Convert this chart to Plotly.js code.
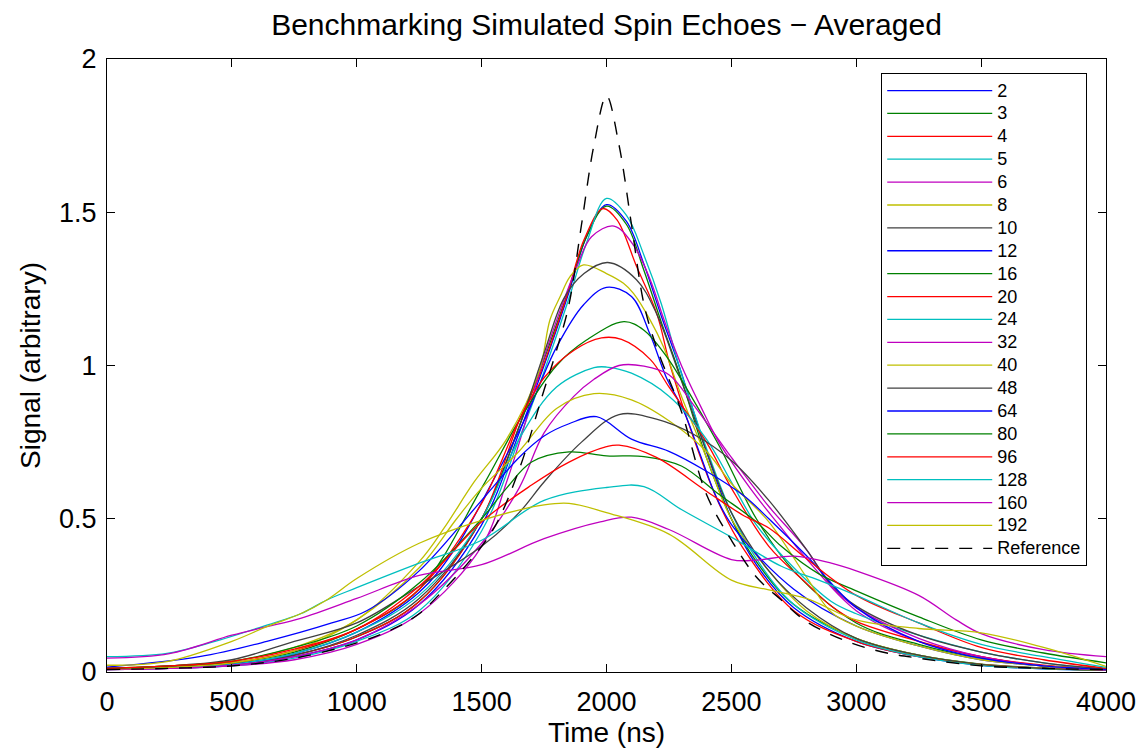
<!DOCTYPE html>
<html>
<head>
<meta charset="utf-8">
<script src="https://cdn.plot.ly/plotly-3.0.1.min.js"></script>
<style>html,body{margin:0;padding:0;background:#fff;}#chart{width:1146px;height:753px;}</style>
</head>
<body>
<div id="chart"></div>
<script>
// ---- data ----
var seriesNames = ["2","3","4","5","6","8","10","12","16","20","24","32","40","48","64","80","96","128","160","192"];
var seriesColors = ["#0000ff","#008000","#ff0000","#00bfbf","#bf00bf","#bfbf00","#404040",
                    "#0000ff","#008000","#ff0000","#00bfbf","#bf00bf","#bfbf00","#404040",
                    "#0000ff","#008000","#ff0000","#00bfbf","#bf00bf","#bfbf00"];

var t2 = [0,250,500,750,1000,1250,1500,1650,1750,1850,1920,2000,2080,2150,2220,2290,2400,2500,2600,2750,3000,3250,3500,3750,4000];
var s2 = [0.01,0.013,0.022,0.05,0.105,0.22,0.48,0.78,1.0,1.24,1.42,1.525,1.47,1.33,1.16,1.0,0.72,0.5,0.35,0.21,0.1,0.05,0.022,0.01,0.005];
var t3 = t2;
var s3 = [0.012,0.016,0.026,0.055,0.115,0.23,0.5,0.8,1.02,1.25,1.42,1.52,1.46,1.31,1.14,0.98,0.7,0.5,0.36,0.22,0.11,0.055,0.026,0.013,0.006];
var t4 = [0,250,500,750,1000,1250,1500,1650,1735,1840,1910,1985,2042,2121,2201,2255,2350,2450,2550,2750,3000,3250,3500,3750,4000];
var s4 = [0.01,0.015,0.025,0.055,0.115,0.23,0.5,0.82,0.975,1.224,1.41,1.512,1.475,1.322,1.17,1.0,0.76,0.55,0.4,0.2,0.1,0.05,0.025,0.012,0.006];
var t5 = t2;
var s5 = [0.008,0.012,0.02,0.045,0.1,0.2,0.46,0.76,0.98,1.22,1.4,1.545,1.49,1.36,1.2,1.0,0.73,0.52,0.37,0.22,0.105,0.05,0.022,0.01,0.005];
var t6 = [0,250,500,750,1000,1250,1500,1600,1670,1740,1810,1880,1940,2030,2110,2175,2230,2300,2375,2450,2575,2700,2800,3000,3250,3500,3750,4000];
var s6 = [0.008,0.012,0.02,0.04,0.09,0.19,0.41,0.62,0.8,1.0,1.17,1.32,1.42,1.455,1.39,1.28,1.15,1.0,0.87,0.75,0.6,0.47,0.37,0.2,0.1,0.05,0.02,0.008];
var t8 = [0,250,500,750,1000,1250,1350,1470,1600,1730,1774,1814,1854,1908,2000,2068,2108,2175,2228,2300,2400,2500,2650,2800,3000,3250,3500,3750,4000];
var s8 = [0.012,0.02,0.035,0.08,0.17,0.36,0.47,0.62,0.76,0.98,1.15,1.224,1.29,1.328,1.3,1.268,1.235,1.148,1.061,0.9,0.7,0.5,0.33,0.2,0.11,0.055,0.025,0.012,0.005];
var t10 = [0,250,500,750,1000,1250,1500,1650,1750,1830,1910,2005,2120,2200,2300,2400,2500,2650,2800,3000,3250,3500,3750,4000];
var s10 = [0.01,0.015,0.025,0.055,0.12,0.24,0.5,0.8,1.04,1.22,1.3,1.336,1.28,1.17,0.95,0.72,0.52,0.33,0.21,0.11,0.055,0.025,0.012,0.006];
var t12 = [0,250,500,750,1000,1250,1400,1530,1670,1800,1910,2000,2100,2175,2240,2310,2375,2440,2510,2750,3000,3250,3500,3750,4000];
var s12 = [0.01,0.015,0.025,0.06,0.13,0.26,0.41,0.6,0.82,1.06,1.2,1.255,1.225,1.1,0.96,0.85,0.71,0.57,0.47,0.27,0.15,0.085,0.04,0.02,0.008];
var t16 = [0,250,500,750,1000,1250,1500,1650,1800,1920,2070,2150,2240,2310,2450,2600,2750,3000,3250,3500,3750,4000];
var s16 = [0.01,0.015,0.03,0.065,0.14,0.27,0.6,0.82,1.0,1.083,1.143,1.115,1.03,0.94,0.74,0.5,0.33,0.16,0.09,0.045,0.02,0.01];
var t20 = [0,250,500,750,1000,1250,1500,1650,1750,1870,1980,2060,2175,2250,2400,2500,2650,2800,2900,3000,3250,3500,3750,4000];
var s20 = [0.012,0.018,0.03,0.07,0.14,0.27,0.55,0.82,0.96,1.05,1.09,1.085,1.02,0.93,0.75,0.6,0.41,0.29,0.215,0.165,0.1,0.05,0.022,0.01];
var t24 = [0,250,500,750,1000,1250,1500,1650,1800,1950,2000,2100,2250,2400,2500,2600,2750,2900,3000,3250,3500,3750,4000];
var s24 = [0.01,0.015,0.025,0.06,0.13,0.25,0.5,0.76,0.93,0.993,0.995,0.975,0.9,0.76,0.62,0.48,0.34,0.23,0.19,0.12,0.065,0.03,0.01];
var t32 = [0,250,500,750,1000,1250,1500,1650,1750,1870,1950,2050,2150,2250,2350,2500,2650,2800,2900,3000,3250,3500,3750,4000];
var s32 = [0.008,0.012,0.022,0.05,0.105,0.22,0.42,0.6,0.78,0.9,0.955,1.0,0.998,0.97,0.87,0.7,0.54,0.4,0.28,0.21,0.11,0.05,0.02,0.006];
var t40 = [0,250,500,750,1000,1250,1400,1500,1650,1800,1950,2100,2250,2400,2500,2650,2800,2900,3000,3250,3500,3750,4000];
var s40 = [0.01,0.015,0.03,0.07,0.17,0.34,0.5,0.6,0.72,0.86,0.908,0.888,0.82,0.72,0.615,0.49,0.31,0.195,0.15,0.085,0.04,0.02,0.008];
var t48 = [0,250,500,750,1000,1250,1500,1650,1750,1900,2050,2200,2350,2500,2650,2800,2900,3000,3250,3500,3750,4000];
var s48 = [0.012,0.02,0.04,0.1,0.16,0.28,0.41,0.52,0.62,0.75,0.84,0.825,0.775,0.69,0.56,0.4,0.285,0.215,0.12,0.065,0.03,0.01];
var t64 = [0,370,640,900,1040,1250,1500,1650,1750,1850,1960,2100,2250,2400,2550,2650,2800,3000,3250,3500,3750,4000];
var s64 = [0.016,0.05,0.1,0.16,0.2,0.33,0.56,0.7,0.77,0.81,0.833,0.76,0.72,0.655,0.575,0.5,0.38,0.21,0.1,0.045,0.02,0.008];
var t80 = [0,250,500,750,1000,1250,1500,1600,1700,1850,2000,2150,2300,2450,2600,2700,2850,3000,3250,3500,3750,4000];
var s80 = [0.012,0.02,0.035,0.08,0.15,0.29,0.5,0.6,0.685,0.718,0.705,0.703,0.672,0.58,0.49,0.41,0.32,0.265,0.18,0.105,0.062,0.03];
var t96 = [0,250,500,750,1000,1250,1500,1700,1850,2000,2050,2200,2400,2550,2650,2800,3000,3250,3500,3750,4000];
var s96 = [0.012,0.02,0.035,0.075,0.14,0.28,0.49,0.61,0.685,0.735,0.74,0.7,0.59,0.51,0.47,0.37,0.25,0.16,0.08,0.04,0.012];
var t128 = [0,240,425,640,775,880,1000,1250,1500,1750,2000,2150,2300,2500,2700,2850,3000,3250,3500,3750,4000];
var s128 = [0.05,0.061,0.098,0.153,0.19,0.235,0.275,0.355,0.43,0.56,0.602,0.605,0.53,0.44,0.345,0.3,0.25,0.16,0.09,0.05,0.015];
var t160 = [0,250,500,640,775,1000,1250,1500,1750,1975,2100,2250,2500,2600,2750,2900,3000,3250,3400,3500,3750,4000];
var s160 = [0.045,0.06,0.12,0.148,0.175,0.24,0.315,0.35,0.435,0.49,0.505,0.465,0.367,0.365,0.378,0.355,0.33,0.25,0.17,0.125,0.073,0.05];
var t192 = [0,240,500,640,775,880,1000,1250,1500,1750,1850,2000,2250,2500,2650,2800,3000,3250,3500,3750,4000];
var s192 = [0.022,0.034,0.1,0.148,0.19,0.235,0.305,0.42,0.495,0.545,0.55,0.52,0.45,0.3,0.268,0.24,0.17,0.142,0.128,0.08,0.018];
var tRef = [0,250,500,750,1000,1150,1250,1350,1450,1550,1650,1750,1800,1850,1900,1950,2000,2050,2100,2150,2200,2300,2400,2500,2600,2700,2800,2950,3100,3250,3500,3750,4000];
var sRef = [0.008,0.012,0.02,0.045,0.095,0.142,0.19,0.27,0.36,0.47,0.66,0.92,1.05,1.2,1.46,1.72,1.88,1.72,1.46,1.2,1.06,0.85,0.58,0.43,0.31,0.235,0.165,0.104,0.066,0.045,0.02,0.012,0.008];

var seriesT = [t2,t3,t4,t5,t6,t8,t10,t12,t16,t20,t24,t32,t40,t48,t64,t80,t96,t128,t160,t192];
var seriesS = [s2,s3,s4,s5,s6,s8,s10,s12,s16,s20,s24,s32,s40,s48,s64,s80,s96,s128,s160,s192];

// ---- traces ----
var FONT = "Liberation Sans, Arial, Helvetica, sans-serif";
function legendLabel(s) { return '<span style="font-size:18px">' + s + '</span>'; }
var traces = [];
for (var i = 0; i < seriesNames.length; i++) {
  traces.push({
    x: seriesT[i], y: seriesS[i], name: legendLabel(seriesNames[i]), type: "scatter", mode: "lines",
    line: {color: seriesColors[i], width: 1.3, shape: "spline", smoothing: 1}
  });
}
traces.push({
  x: tRef, y: sRef, name: legendLabel("Reference"), type: "scatter", mode: "lines",
  line: {color: "#000000", width: 1.4, dash: "13px,11px", shape: "spline", smoothing: 1}
});

var axisCommon = {
  showline: true, linecolor: "#000", linewidth: 1, mirror: "ticks",
  ticks: "inside", ticklen: 8, tickwidth: 1, tickcolor: "#000",
  showgrid: false, zeroline: false,
  tickfont: {family: FONT, size: 27, color: "#000"}
};

var layout = {
  width: 1146, height: 753,
  paper_bgcolor: "#fff", plot_bgcolor: "#fff",
  margin: {l: 107, r: 40, t: 59, b: 81},
  title: {text: "Benchmarking Simulated Spin Echoes \u2212 Averaged",
          font: {family: FONT, size: 30, color: "#000"},
          x: 0.5, xref: "paper", y: 0.968, yref: "container", yanchor: "middle"},
  xaxis: Object.assign({}, axisCommon, {
    range: [0, 4000], tick0: 0, dtick: 500, ticklabelstandoff: 6,
    title: {text: "Time (ns)", font: {family: FONT, size: 28, color: "#000"}, standoff: 4}
  }),
  yaxis: Object.assign({}, axisCommon, {
    range: [0, 2], tick0: 0, dtick: 0.5, ticklabelstandoff: 4,
    tickvals: [0, 0.5, 1, 1.5, 2], ticktext: ["0", "0.5", "1", "1.5", "2"],
    title: {text: "Signal (arbitrary)", font: {family: FONT, size: 28, color: "#000"}, standoff: 10}
  }),
  legend: {
    x: 0.775, y: 0.977, xanchor: "left", yanchor: "top",
    bgcolor: "#fff", bordercolor: "#000", borderwidth: 1,
    font: {family: FONT, size: 15.3, color: "#000"},
    itemwidth: 105, tracegroupgap: 0
  },
  showlegend: true
};

Plotly.newPlot("chart", traces, layout, {displayModeBar: false, staticPlot: true});
</script>
</body>
</html>
